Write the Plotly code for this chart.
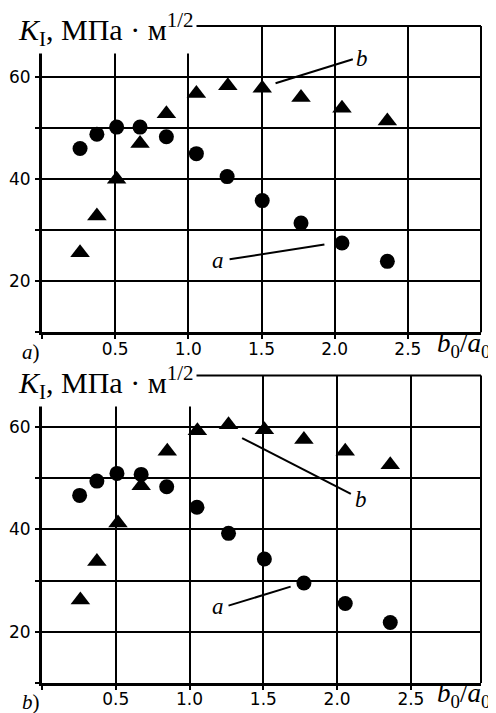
import plotly.graph_objects as go

# ---------------- data ----------------
# panel a)
xa_circ = [0.26, 0.375, 0.51, 0.67, 0.85, 1.055, 1.265, 1.505, 1.77, 2.05, 2.36]
ya_circ = [46.0, 48.8, 50.2, 50.2, 48.3, 45.0, 40.5, 35.8, 31.4, 27.5, 23.9]
xa_tri = [0.26, 0.375, 0.51, 0.67, 0.85, 1.055, 1.27, 1.505, 1.77, 2.05, 2.36]
ya_tri = [25.6, 32.8, 40.0, 47.0, 52.8, 56.8, 58.3, 57.8, 56.0, 53.9, 51.4]
# panel b)
xb_circ = [0.255, 0.372, 0.508, 0.672, 0.845, 1.05, 1.264, 1.507, 1.775, 2.055, 2.36]
yb_circ = [46.6, 49.4, 50.9, 50.7, 48.3, 44.3, 39.2, 34.2, 29.5, 25.5, 21.8]
xb_tri = [0.26, 0.372, 0.515, 0.672, 0.849, 1.053, 1.264, 1.507, 1.775, 2.055, 2.36]
yb_tri = [26.2, 33.7, 41.2, 48.5, 55.2, 59.2, 60.4, 59.4, 57.5, 55.2, 52.6]

x_tickvals = [0, 0.5, 1.0, 1.5, 2.0, 2.5]
x_ticktext = ["", "0.5", "1.0", "1.5", "2.0", "2.5"]
y_tickvals = [10, 20, 30, 40, 50, 60]
y_ticktext = ["", "20", "", "40", "", "60"]

# leader lines [x0, y0, x1, y1] and label positions
lead_a_top = [1.282, 24.3, 1.93, 27.2]
lead_b_top = [1.596, 58.8, 2.124, 63.5]
lead_a_bot = [1.264, 25.1, 1.685, 28.8]
lead_b_bot = [1.356, 57.8, 2.093, 46.9]
lab_a_top = [1.20, 24.1]
lab_b_top = [2.19, 63.6]
lab_a_bot = [1.196, 24.9]
lab_b_bot = [2.16, 45.9]

# ---------------- figure ----------------
OFF = 8  # default page body margin
W, H = 496 - OFF, 713 - OFF
ML, MR, MT, MB = 42 - OFF, 15, 26 - OFF, 30
PW, PH = W - ML - MR, H - MT - MB


def pxx(p):
    return (p - OFF - ML) / PW


def pxy(p):
    return (H - MB - (p - OFF)) / PH


fig = go.Figure()
circ = dict(symbol="circle", size=15, color="black")
tri = dict(symbol="triangle-up", size=17, color="black")
fig.add_trace(go.Scatter(x=xa_circ, y=ya_circ, mode="markers", marker=circ, xaxis="x", yaxis="y"))
fig.add_trace(go.Scatter(x=xa_tri, y=ya_tri, mode="markers", marker=tri, xaxis="x", yaxis="y"))
fig.add_trace(go.Scatter(x=xb_circ, y=yb_circ, mode="markers", marker=circ, xaxis="x2", yaxis="y2"))
fig.add_trace(go.Scatter(x=xb_tri, y=yb_tri, mode="markers", marker=tri, xaxis="x2", yaxis="y2"))

tickfont = dict(family="DejaVu Sans", size=17, color="black")
xcommon = dict(tickvals=x_tickvals, ticktext=x_ticktext, showgrid=True, gridcolor="black",
               gridwidth=2, zeroline=False, showline=True, linecolor="black", linewidth=3,
               ticks="outside", ticklen=4, tickwidth=2, tickcolor="black", tickfont=tickfont,
               ticklabelstandoff=-5)
ycommon = dict(range=[10, 70], tickvals=y_tickvals, ticktext=y_ticktext, showgrid=True,
               gridcolor="black", gridwidth=2, zeroline=False, showline=True, linecolor="black",
               linewidth=3, ticks="outside", ticklen=4, tickwidth=2, tickcolor="black",
               tickfont=tickfont, ticklabelstandoff=1)

fig.update_layout(
    width=W, height=H, showlegend=False,
    margin=dict(l=ML, r=MR, t=MT, b=MB, autoexpand=False),
    paper_bgcolor="white", plot_bgcolor="white",
    xaxis=dict(xcommon, range=[0, 3.0], anchor="y", domain=[0, 1]),
    yaxis=dict(ycommon, anchor="x", domain=[pxy(332.3), 1]),
    xaxis2=dict(xcommon, range=[0, 2.975], anchor="y2", domain=[0, 1]),
    yaxis2=dict(ycommon, anchor="x2", domain=[0, pxy(375.5)]),
)

shapes = []
for xr, yr in (("x", "y"), ("x2", "y2")):
    # frame: top and right edges
    shapes.append(dict(type="line", xref=xr + " domain", yref=yr + " domain", x0=0, x1=1, y0=1, y1=1,
                       line=dict(color="black", width=2)))
    shapes.append(dict(type="line", xref=xr + " domain", yref=yr + " domain", x0=1, x1=1, y0=0, y1=1,
                       line=dict(color="black", width=2)))
for (xr, yr), ld in ((("x", "y"), lead_a_top), (("x", "y"), lead_b_top),
                     (("x2", "y2"), lead_a_bot), (("x2", "y2"), lead_b_bot)):
    shapes.append(dict(type="line", xref=xr, yref=yr, x0=ld[0], y0=ld[1], x1=ld[2], y1=ld[3],
                       line=dict(color="black", width=2)))
fig.update_layout(shapes=shapes)

serif = "Liberation Serif"
ann = []
for (xr, yr), lab, t in ((("x", "y"), lab_a_top, "a"), (("x", "y"), lab_b_top, "b"),
                         (("x2", "y2"), lab_a_bot, "a"), (("x2", "y2"), lab_b_bot, "b")):
    ann.append(dict(xref=xr, yref=yr, x=lab[0], y=lab[1], text="<i>%s</i>" % t, showarrow=False,
                    font=dict(family=serif, size=23, color="black")))

title = "<i>K</i><sub>I</sub>,\u00a0МПа\u00a0·\u00a0м<sup>1/2</sup>"
for yc in (29, 382):
    ann.append(dict(xref="paper", yref="paper", x=pxx(15), y=pxy(yc), xanchor="left", yanchor="middle",
                    text=title, showarrow=False, bgcolor="white", borderpad=2,
                    font=dict(family=serif, size=30, color="black")))
for yc in (345, 695):
    ann.append(dict(xref="paper", yref="paper", x=pxx(435), y=pxy(yc), xanchor="left", yanchor="middle",
                    text="<i>b</i><sub>0</sub>/<i>a</i><sub>0</sub>", showarrow=False,
                    font=dict(family=serif, size=27, color="black")))
for yc, t in ((352, "a"), (702, "b")):
    ann.append(dict(xref="paper", yref="paper", x=pxx(20), y=pxy(yc), xanchor="left", yanchor="middle",
                    text="<i>%s</i>)" % t, showarrow=False,
                    font=dict(family=serif, size=21, color="black")))
fig.update_layout(annotations=ann)

fig.write_html("out.html")
